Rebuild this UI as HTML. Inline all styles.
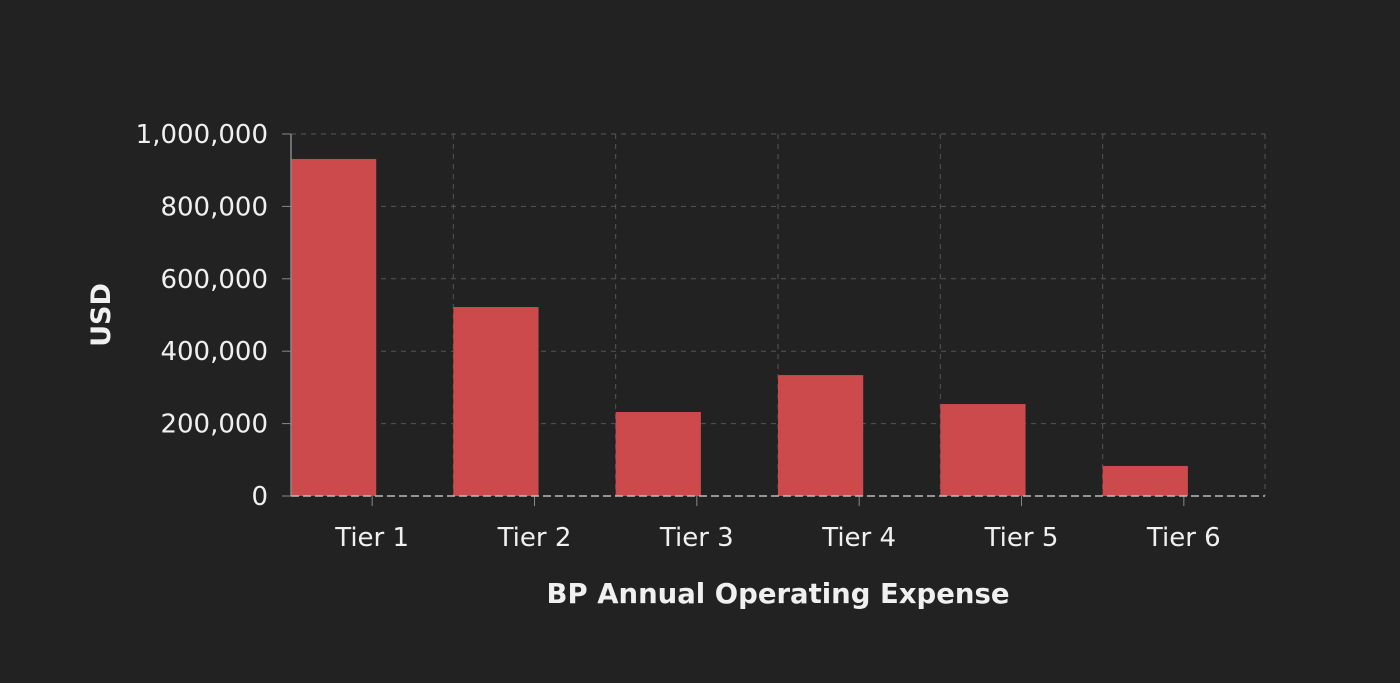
<!DOCTYPE html>
<html><head><meta charset="utf-8"><style>
html,body{margin:0;padding:0;background:#222222;}
svg{display:block;font-family:"Liberation Sans","DejaVu Sans",sans-serif;}
</style></head><body>
<svg id="chart" width="1400" height="683" viewBox="0 0 1400 683">
<rect width="1400" height="683" fill="#222222"/>
<g id="grid"></g><g id="bars"></g><g id="axes"></g>
<text x="778" y="603" text-anchor="middle" fill="#f0f0f0" font-size="27.5" font-weight="bold" font-family="DejaVu Sans, sans-serif">BP Annual Operating Expense</text>
<text transform="translate(110,315) rotate(-90)" text-anchor="middle" fill="#f0f0f0" font-size="27" font-weight="bold" font-family="DejaVu Sans, sans-serif">USD</text>
</svg>
<script>
const categories=["Tier 1","Tier 2","Tier 3","Tier 4","Tier 5","Tier 6"];
const values=[931000,522000,232000,334000,254000,83000];
const yTicks=[0,200000,400000,600000,800000,1000000];
const yTickLabels=["0","200,000","400,000","600,000","800,000","1,000,000"];
const L=291,R=1265,T=134,B=496,yMax=1000000;
const ns="http://www.w3.org/2000/svg";
const cw=(R-L)/categories.length;
function y(v){return B-(v/yMax)*(B-T);}
function x(i){return L+i*cw;}
function mk(tag,attrs,parent){const e=document.createElementNS(ns,tag);for(const k in attrs)e.setAttribute(k,attrs[k]);parent.appendChild(e);return e;}
const grid=document.getElementById('grid'),bars=document.getElementById('bars'),axes=document.getElementById('axes');
yTicks.forEach((t,i)=>{
  if(t>0){const g=mk('line',{x1:L,x2:R,y1:y(t),y2:y(t),stroke:'#555',"stroke-width":1,"stroke-dasharray":"5,5"},grid);
  
  }
  const tk=mk('line',{x1:L-9,x2:L,y1:y(t),y2:y(t),stroke:'#888',"stroke-width":1},axes);
  
  
  const lb=mk('text',{x:L-23,y:y(t)+9,"text-anchor":"end",fill:"#f0f0f0","font-size":"26","font-family":"DejaVu Sans, sans-serif"},axes);
  lb.textContent=yTickLabels[i];
  
  
});
for(let i=1;i<=categories.length;i++){
  const g=mk('line',{x1:x(i),x2:x(i),y1:T,y2:B,stroke:'#555',"stroke-width":1,"stroke-dasharray":"5,5"},grid);
  
  
}
categories.forEach((c,i)=>{
  const bw=cw*0.525;
  const r=mk('rect',{x:x(i),y:y(values[i]),width:bw,height:B-y(values[i]),fill:'#cc4a4c'},bars);
  
  
  const cx=x(i)+cw/2;
  const tk=mk('line',{x1:cx,x2:cx,y1:B,y2:B+10,stroke:'#888',"stroke-width":1},axes);
  
  
  const lb=mk('text',{x:cx,y:B+50,"text-anchor":"middle",fill:"#f0f0f0","font-size":"26","font-family":"DejaVu Sans, sans-serif"},axes);
  lb.textContent=c;
  
  
});
const ya=mk('line',{x1:L,x2:L,y1:T,y2:B,stroke:'#888',"stroke-width":1.5},axes);


const xa=mk('line',{x1:L,x2:R,y1:B,y2:B,stroke:'#bbb',"stroke-width":1.5,"stroke-dasharray":"8,4"},axes);


</script>
</body></html>
